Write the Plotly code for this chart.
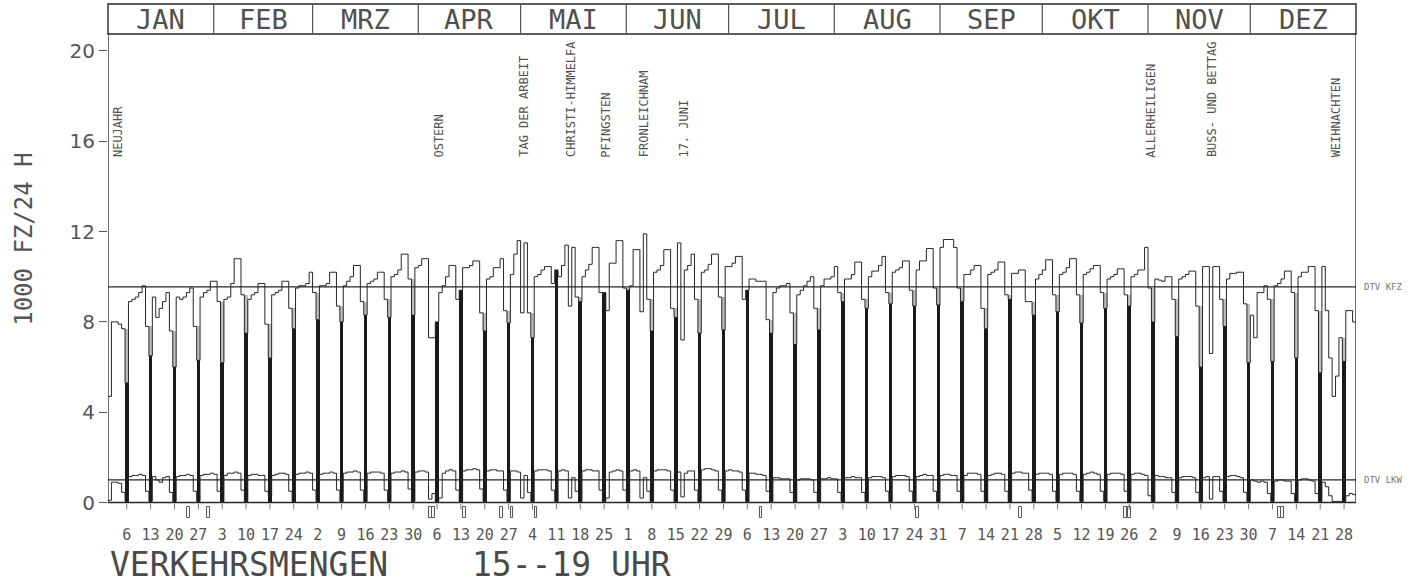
import datetime as dt
import plotly.graph_objects as go

# ---------------- data (1980, values in 1000 vehicles, 15-19 h) ----------------
year = 1980
months = ["JAN", "FEB", "MRZ", "APR", "MAI", "JUN", "JUL", "AUG", "SEP", "OKT", "NOV", "DEZ"]

kfz_jan = [4.7, 8.0, 8.0, 7.9, 7.7, 5.3,
           8.9, 9.0, 9.1, 9.3, 9.6, 7.8, 6.5,
           9.1, 8.2, 8.6, 8.9, 9.3, 7.6, 6.0,
           9.1, 9.0, 9.1, 9.3, 9.5, 7.8, 6.3,
           9.1, 9.3, 9.4, 9.8]
kfz_feb = [9.8, 8.9, 6.2,
           9.0, 9.1, 9.7, 10.8, 10.8, 9.2, 7.5,
           9.0, 9.2, 9.3, 9.7, 9.7, 7.9, 6.4,
           9.2, 9.3, 9.4, 9.8, 9.8, 8.6, 7.7,
           9.5, 9.6, 9.6, 9.7, 10.2]
kfz_mar = [9.3, 8.1,
           9.6, 9.6, 9.7, 10.2, 10.2, 8.7, 8.0,
           9.6, 9.8, 10.0, 10.5, 10.5, 8.9, 8.3,
           9.7, 9.8, 9.9, 10.2, 10.2, 9.0, 8.2,
           10.0, 10.1, 10.3, 11.0, 11.0, 9.9, 8.3,
           10.4]
kfz_apr = [10.5, 10.8, 10.8, 7.3, 7.3, 8.0,
           9.3, 9.6, 10.0, 10.5, 10.5, 9.0, 9.4,
           10.4, 10.4, 10.5, 10.7, 10.7, 8.4, 7.6,
           9.9, 10.0, 10.4, 10.4, 10.8, 8.5, 7.95,
           10.1, 11.0, 11.6]
kfz_may = [8.4, 11.5, 8.4, 7.3,
           10.0, 10.1, 10.3, 10.45, 10.45, 9.7, 10.3,
           10.0, 10.5, 11.4, 8.7, 11.3, 9.1, 8.9,
           10.0, 10.3, 10.55, 11.3, 11.3, 9.3, 9.3,
           8.5, 10.6, 10.6, 11.6, 11.6, 9.5]
kfz_jun = [9.4,
           9.6, 11.2, 11.2, 8.45, 11.9, 9.0, 7.6,
           10.2, 10.3, 10.5, 11.2, 11.2, 8.6, 8.2,
           11.5, 7.2, 10.3, 10.5, 11.0, 9.0, 7.5,
           10.2, 10.3, 10.55, 11.0, 11.0, 9.1, 7.65,
           10.45]
kfz_jul = [10.45, 10.6, 10.9, 10.9, 9.0, 9.4,
           9.9, 9.9, 9.8, 9.8, 9.8, 8.1, 7.5,
           9.3, 9.5, 9.6, 9.6, 9.7, 8.4, 7.0,
           9.2, 9.4, 9.6, 9.8, 10.0, 8.6, 7.65,
           9.6, 9.9, 9.9, 10.0]
kfz_aug = [10.45, 9.3, 8.9,
           9.9, 9.9, 10.1, 10.65, 10.65, 9.0, 8.6,
           10.0, 10.25, 10.25, 10.5, 10.9, 9.3, 8.8,
           10.2, 10.3, 10.4, 10.7, 10.7, 9.4, 8.7,
           10.3, 10.7, 10.7, 11.25, 11.25, 9.5, 8.75]
kfz_sep = [11.3, 11.65, 11.65, 11.65, 11.3, 9.5, 8.9,
           10.1, 10.1, 10.3, 10.5, 10.5, 8.6, 7.7,
           10.1, 10.2, 10.3, 10.65, 10.65, 9.2, 9.0,
           10.15, 10.15, 10.3, 10.3, 8.9, 8.9, 8.3,
           9.9, 10.1]
kfz_oct = [10.3, 10.75, 10.75, 9.2, 8.45,
           10.1, 10.2, 10.4, 10.8, 10.8, 9.2, 7.95,
           10.1, 10.2, 10.35, 10.5, 10.5, 9.3, 8.6,
           9.9, 10.0, 10.1, 10.35, 10.35, 9.2, 8.7,
           10.0, 10.1, 10.3, 10.3, 11.3]
kfz_nov = [9.5, 8.0,
           9.9, 9.85, 9.8, 10.0, 10.0, 9.0, 7.35,
           9.9, 10.0, 10.1, 10.25, 10.25, 8.7, 6.0,
           10.45, 10.45, 6.6, 10.45, 10.45, 9.0, 7.8,
           9.9, 10.15, 10.15, 10.2, 10.2, 8.8, 6.2]
kfz_dec = [8.3, 7.3, 9.3, 9.3, 9.6, 9.0, 6.25,
           9.6, 9.7, 9.9, 10.25, 10.25, 9.3, 6.4,
           10.0, 10.2, 10.2, 10.45, 10.45, 8.5, 5.75,
           10.45, 8.5, 6.4, 4.7, 5.6, 7.3, 6.25,
           8.5, 8.5, 8.0]

lkw_jan = [0.1, 0.9, 0.9, 0.85, 0.45, 0.05,
           1.15, 1.2, 1.2, 1.25, 1.2, 0.5, 0.05,
           1.15, 1.0, 0.9, 1.1, 1.15, 0.45, 0.05,
           1.15, 1.2, 1.2, 1.25, 1.2, 0.5, 0.05,
           1.2, 1.25, 1.25, 1.3]
lkw_feb = [1.25, 0.5, 0.05,
           1.2, 1.3, 1.3, 1.35, 1.3, 0.55, 0.05,
           1.2, 1.25, 1.25, 1.2, 1.2, 0.5, 0.3,
           1.2, 1.25, 1.3, 1.3, 1.25, 0.5, 0.05,
           1.25, 1.3, 1.3, 1.35, 1.3]
lkw_mar = [0.55, 0.05,
           1.25, 1.3, 1.3, 1.35, 1.3, 0.55, 0.05,
           1.3, 1.35, 1.35, 1.4, 1.35, 0.55, 0.05,
           1.3, 1.35, 1.35, 1.35, 1.3, 0.55, 0.05,
           1.3, 1.35, 1.35, 1.4, 1.35, 0.6, 0.05,
           1.35]
lkw_apr = [1.4, 1.4, 1.35, 0.15, 0.4, 0.05,
           0.2, 1.3, 1.4, 1.45, 1.4, 0.55, 0.05,
           1.4, 1.45, 1.45, 1.5, 1.45, 0.6, 0.05,
           1.4, 1.45, 1.45, 1.4, 1.4, 0.55, 0.05,
           1.4, 1.4, 1.35]
lkw_may = [0.2, 1.2, 0.45, 0.05,
           1.4, 1.45, 1.45, 1.45, 1.4, 0.55, 0.05,
           1.4, 1.45, 1.4, 0.2, 1.1, 0.5, 0.05,
           1.4, 1.45, 1.45, 1.4, 1.4, 0.55, 0.05,
           0.2, 1.35, 1.4, 1.45, 1.4, 0.55]
lkw_jun = [0.05,
           1.4, 1.45, 1.4, 0.2, 1.1, 0.5, 0.05,
           1.4, 1.45, 1.45, 1.45, 1.4, 0.55, 0.05,
           1.35, 0.25, 1.3, 1.4, 1.4, 0.55, 0.05,
           1.45, 1.5, 1.5, 1.45, 1.4, 0.55, 0.05,
           1.4]
lkw_jul = [1.45, 1.4, 1.4, 1.35, 0.55, 0.05,
           1.3, 1.3, 1.25, 1.25, 1.2, 0.5, 0.05,
           1.1, 1.1, 1.05, 1.05, 1.05, 0.45, 0.05,
           1.0, 1.05, 1.05, 1.05, 1.0, 0.45, 0.05,
           1.05, 1.05, 1.1, 1.05]
lkw_aug = [1.05, 0.45, 0.05,
           1.1, 1.1, 1.15, 1.1, 1.1, 0.45, 0.05,
           1.1, 1.15, 1.15, 1.15, 1.1, 0.5, 0.05,
           1.15, 1.2, 1.2, 1.2, 1.15, 0.5, 0.05,
           1.15, 1.2, 1.25, 1.2, 1.2, 0.5, 0.05]
lkw_sep = [1.2, 1.25, 1.25, 1.2, 1.2, 0.5, 0.05,
           1.2, 1.3, 1.3, 1.3, 1.25, 0.5, 0.05,
           1.2, 1.25, 1.3, 1.3, 1.25, 0.5, 0.05,
           1.3, 1.35, 1.35, 1.3, 1.3, 0.55, 0.05,
           1.25, 1.3]
lkw_oct = [1.3, 1.3, 1.25, 0.5, 0.05,
           1.25, 1.3, 1.3, 1.3, 1.25, 0.5, 0.05,
           1.25, 1.3, 1.35, 1.3, 1.25, 0.5, 0.05,
           1.25, 1.3, 1.3, 1.3, 1.25, 0.5, 0.05,
           1.25, 1.3, 1.3, 1.25, 1.2]
lkw_nov = [0.3, 0.05,
           1.2, 1.15, 1.15, 1.1, 1.1, 0.45, 0.05,
           1.1, 1.15, 1.15, 1.15, 1.1, 0.45, 0.05,
           1.1, 1.15, 0.15, 1.15, 1.15, 0.5, 0.05,
           1.15, 1.2, 1.2, 1.15, 1.1, 0.45, 0.05]
lkw_dec = [1.0, 0.95, 0.9, 0.95, 0.9, 0.4, 0.05,
           0.95, 1.0, 1.0, 0.95, 0.95, 0.4, 0.05,
           1.0, 1.05, 1.05, 1.0, 0.95, 0.4, 0.05,
           0.9, 0.7, 0.3, 0.05, 0.05, 0.05, 0.05,
           0.3, 0.4, 0.35]

dtv_kfz = 9.55
dtv_lkw = 1.0

holiday_names = ["NEUJAHR", "OSTERN", "TAG DER ARBEIT", "CHRISTI-HIMMELFA", "PFINGSTEN",
                 "FRONLEICHNAM", "17. JUNI", "ALLERHEILIGEN", "BUSS- UND BETTAG", "WEIHNACHTEN"]
holiday_dates = ["1980-01-03", "1980-04-06", "1980-05-01", "1980-05-15", "1980-05-25",
                 "1980-06-05", "1980-06-17", "1980-11-01", "1980-11-19", "1980-12-25"]
marker_dates = ["1980-01-24", "1980-01-30", "1980-04-04", "1980-04-05", "1980-04-14",
                "1980-04-25", "1980-04-28", "1980-05-05", "1980-07-10", "1980-08-25",
                "1980-09-24", "1980-10-25", "1980-10-26", "1980-12-09", "1980-12-10"]

# ---------------- assemble ----------------
kfz = (kfz_jan + kfz_feb + kfz_mar + kfz_apr + kfz_may + kfz_jun +
       kfz_jul + kfz_aug + kfz_sep + kfz_oct + kfz_nov + kfz_dec)
lkw = (lkw_jan + lkw_feb + lkw_mar + lkw_apr + lkw_may + lkw_jun +
       lkw_jul + lkw_aug + lkw_sep + lkw_oct + lkw_nov + lkw_dec)
start = dt.date(year, 1, 1)
n = len(kfz)
days = [start + dt.timedelta(i) for i in range(n)]
sun = [i for i, d in enumerate(days) if d.weekday() == 6]


def idx(s):
    return (dt.date.fromisoformat(s) - start).days


month_start = [(dt.date(year, m, 1) - start).days for m in range(1, 13)] + [n]

INK = "#262626"
TXT = "#505050"
MONO = "DejaVu Sans Mono"

fig = go.Figure()

# stippled part above the Sunday bars (Saturday level)
fig.add_trace(go.Bar(
    x=[i + 0.5 for i in sun],
    y=[max(kfz[i - 1] - kfz[i], 0) if i > 0 else 0 for i in sun],
    base=[kfz[i] for i in sun],
    width=1.0, marker=dict(color="#bdbdbd", line=dict(width=0)),
    hoverinfo="skip", showlegend=False))
# Sunday bars
fig.add_trace(go.Bar(
    x=[i + 0.5 for i in sun], y=[kfz[i] for i in sun],
    width=1.05, marker=dict(color="#1a1a1a", line=dict(width=0)),
    showlegend=False))
# holiday markers below the axis
fig.add_trace(go.Bar(
    x=[idx(s) + 0.5 for s in marker_dates], y=[0.5] * len(marker_dates),
    base=[-0.68] * len(marker_dates), width=0.8,
    marker=dict(color="white", line=dict(color="#555", width=1)),
    showlegend=False, hoverinfo="skip"))
# KFZ step line
fig.add_trace(go.Scatter(
    x=list(range(n + 1)), y=kfz + [kfz[-1]], mode="lines",
    line=dict(shape="hv", color=INK, width=1), showlegend=False))
# LKW step line
fig.add_trace(go.Scatter(
    x=list(range(n + 1)), y=lkw + [lkw[-1]], mode="lines",
    line=dict(shape="hv", color=INK, width=1), showlegend=False))
# little Sunday tick marks below zero line
fig.add_trace(go.Scatter(
    x=[i + 0.5 for i in sun], y=[-0.18] * len(sun), mode="markers",
    marker=dict(symbol="line-ns", size=4, line=dict(color="#777", width=1)),
    showlegend=False, hoverinfo="skip"))

ytop = 20.75
hdr = 1.0612
shapes = [
    dict(type="line", xref="x", yref="y", x0=0, x1=n, y0=dtv_kfz, y1=dtv_kfz, line=dict(color=INK, width=1.2)),
    dict(type="line", xref="x", yref="y", x0=0, x1=n, y0=dtv_lkw, y1=dtv_lkw, line=dict(color=INK, width=1.2)),
    dict(type="line", xref="x", yref="y", x0=0, x1=n, y0=0, y1=0, line=dict(color=INK, width=1.4)),
    dict(type="line", xref="x", yref="y", x0=0, x1=0, y0=0, y1=ytop, line=dict(color=INK, width=1.3)),
    dict(type="line", xref="x", yref="y", x0=n, x1=n, y0=0, y1=ytop, line=dict(color=INK, width=1.3)),
    dict(type="rect", xref="paper", yref="paper", x0=0, x1=1, y0=1, y1=hdr,
         line=dict(color=INK, width=1.4)),
]
for ms in month_start[1:-1]:
    shapes.append(dict(type="line", xref="paper", yref="paper", x0=ms / n, x1=ms / n,
                       y0=1, y1=hdr, line=dict(color="#555", width=1.2)))

ann = []
for k, name in enumerate(months):
    ann.append(dict(x=(month_start[k] + month_start[k + 1]) / 2, xref="x", y=1.0294, yref="paper",
                    text=name, showarrow=False, font=dict(family=MONO, size=27, color=TXT),
                    xanchor="center", yanchor="middle", borderpad=0))
for name, d in zip(holiday_names, holiday_dates):
    ann.append(dict(x=idx(d) + 1.0, xref="x", y=15.2, yref="y", text=name, textangle=-90,
                    showarrow=False, font=dict(family=MONO, size=12, color="#505050"),
                    xanchor="center", yanchor="bottom"))
ann += [
    dict(x=1.005, xref="paper", y=dtv_kfz, yref="y", text="DTV KFZ", showarrow=False,
         xanchor="left", yanchor="middle", font=dict(family=MONO, size=9, color="#777")),
    dict(x=1.005, xref="paper", y=dtv_lkw, yref="y", text="DTV LKW", showarrow=False,
         xanchor="left", yanchor="middle", font=dict(family=MONO, size=9, color="#777")),
    dict(x=-0.0673, xref="paper", y=0.58, yref="paper", text="1000 FZ/24 H", textangle=-90,
         showarrow=False, xanchor="center", yanchor="middle",
         font=dict(family=MONO, size=24, color="#555")),
    dict(x=0.0, xref="paper", y=-0.0829, yref="paper", text="VERKEHRSMENGEN", showarrow=False,
         xanchor="left", yanchor="middle", font=dict(family=MONO, size=33, color="#4a4a4a")),
    dict(x=0.290, xref="paper", y=-0.0829, yref="paper", text="15--19 UHR", showarrow=False,
         xanchor="left", yanchor="middle", font=dict(family=MONO, size=33, color="#4a4a4a")),
]

fig.update_layout(
    width=1422, height=584,
    margin=dict(l=108, r=66, t=34, b=60),
    paper_bgcolor="white", plot_bgcolor="white",
    barmode="overlay", bargap=0,
    shapes=shapes, annotations=ann, showlegend=False,
    xaxis=dict(range=[0, n], showgrid=False, zeroline=False, showline=False,
               tickmode="array", tickvals=[i + 0.5 for i in sun],
               ticktext=[str(days[i].day) for i in sun], ticks="",
               tickfont=dict(family=MONO, size=15, color="#555")),
    yaxis=dict(range=[-0.95, ytop], showgrid=False, zeroline=False, showline=False,
               tickmode="array", tickvals=[0, 4, 8, 12, 16, 20], ticks="outside",
               ticklen=8, tickcolor="#555", tickwidth=1,
               tickfont=dict(family="DejaVu Sans", size=20, color="#555")),
)

# remove the browser's default body margin so the figure fills the window exactly
fig.write_html("out.html",
               config={"displayModeBar": False},
               post_script="document.body.style.margin='0';document.body.style.overflow='hidden';")
